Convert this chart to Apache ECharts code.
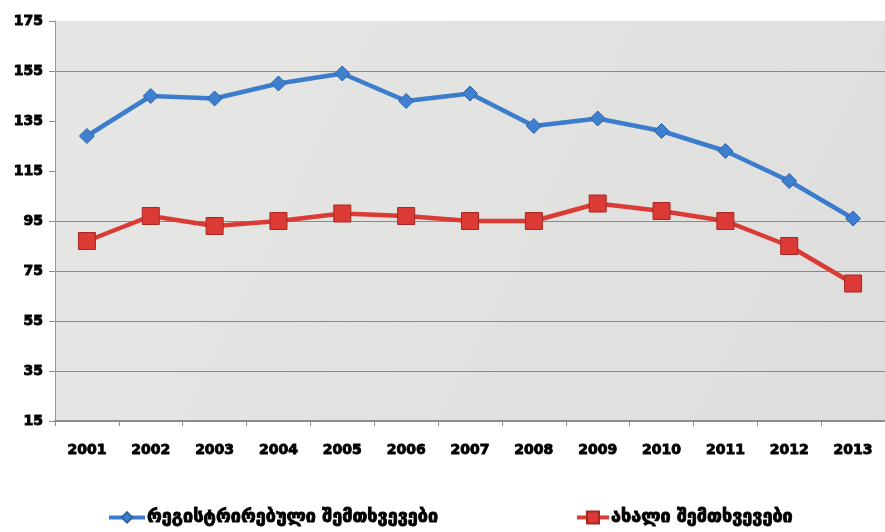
<!DOCTYPE html>
<html>
<head>
<meta charset="utf-8">
<script src="https://cdn.jsdelivr.net/npm/echarts@6/dist/echarts.min.js"></script>
<style>
  html, body { margin: 0; padding: 0; background: #ffffff; }
  #chart { width: 885px; height: 532px; }
</style>
</head>
<body>
<div id="chart"></div>
<script>
// Years on the category axis
const years = ['2001','2002','2003','2004','2005','2006','2007','2008','2009','2010','2011','2012','2013'];
// Registered cases per year
const registered = [129, 145, 144, 150, 154, 143, 146, 133, 136, 131, 123, 111, 96];
// New cases per year
const newCases = [87, 97, 93, 95, 98, 97, 95, 95, 102, 99, 95, 85, 70];
// Series names shown in the legend
const seriesNames = ['რეგისტრირებული შემთხვევები', 'ახალი შემთხვევები'];

const chart = echarts.init(document.getElementById('chart'));

// Heavy black text: bold face thickened with a thin outline of the same colour
const labelFont = {
  color: '#000',
  fontFamily: 'DejaVu Sans',
  fontWeight: 'bold',
  fontSize: 14,
  textBorderColor: '#000',
  textBorderWidth: 0.9
};

chart.setOption({
  animation: false,
  backgroundColor: '#ffffff',
  grid: {
    left: 55,
    top: 21,
    width: 834,
    height: 400,
    show: true,
    backgroundColor: {
      type: 'linear', x: 0, y: 0, x2: 1, y2: 1,
      colorStops: [
        { offset: 0, color: '#e6e6e4' },
        { offset: 1, color: '#dedede' }
      ]
    },
    borderWidth: 0
  },
  legend: [
    {
      data: [seriesNames[0]],
      left: 107,
      top: 508,
      padding: 0,
      itemWidth: 36,
      itemHeight: 13,
      itemGap: 2,
      lineStyle: { width: 4 },
      textStyle: Object.assign({}, labelFont, { fontSize: 18, padding: [0, 0, 0, -3] })
    },
    {
      data: [seriesNames[1]],
      left: 575,
      top: 508,
      padding: 0,
      itemWidth: 32,
      itemHeight: 15,
      itemGap: 2,
      lineStyle: { width: 4 },
      textStyle: Object.assign({}, labelFont, { fontSize: 18, padding: [0, 0, 0, -3] })
    }
  ],
  xAxis: {
    type: 'category',
    data: years,
    boundaryGap: true,
    axisLine: { show: true, lineStyle: { color: '#8c8c8c', width: 2 } },
    axisTick: { show: true, alignWithLabel: false, length: 5, lineStyle: { color: '#8c8c8c' } },
    axisLabel: Object.assign({}, labelFont, { margin: 22 }),
    splitLine: { show: false }
  },
  yAxis: {
    type: 'value',
    min: 15,
    max: 175,
    interval: 20,
    axisLine: { show: true, lineStyle: { color: '#9a9a9a', width: 1 } },
    axisTick: { show: true, length: 6, lineStyle: { color: '#8c8c8c' } },
    axisLabel: Object.assign({}, labelFont, { margin: 12 }),
    splitLine: {
      show: true,
      lineStyle: {
        // 15, 35, 55, 75, 95, 115, 135, 155, 175
        color: ['rgba(0,0,0,0)', '#8a8a8a', '#8a8a8a', '#8a8a8a', '#8a8a8a',
                'rgba(0,0,0,0)', 'rgba(0,0,0,0)', '#8a8a8a', 'rgba(0,0,0,0)'],
        width: 1
      }
    }
  },
  series: [
    {
      name: seriesNames[0],
      type: 'line',
      data: registered,
      symbol: 'diamond',
      symbolSize: 15,
      lineStyle: { color: '#3b7dcc', width: 4.5 },
      itemStyle: { color: '#3f7fd0', borderColor: '#2c63a8', borderWidth: 1 }
    },
    {
      name: seriesNames[1],
      type: 'line',
      data: newCases,
      symbol: 'rect',
      symbolSize: 17,
      lineStyle: { color: '#da3b34', width: 4.5 },
      itemStyle: { color: '#dc3a35', borderColor: '#a62722', borderWidth: 1 }
    }
  ]
});
</script>
</body>
</html>
